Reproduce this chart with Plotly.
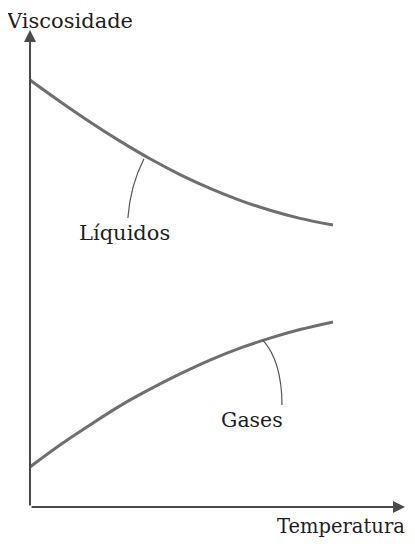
import plotly.graph_objects as go

# Data (arbitrary units): temperature vs viscosity
temperatura = [0, 0.8, 1.6, 2.4, 3.2, 4.0, 4.8, 5.6, 6.4, 7.2, 8.08]
visc_liquidos = [8.95, 8.50, 8.07, 7.67, 7.30, 6.97, 6.68, 6.43, 6.22, 6.05, 5.91]
visc_gases = [0.84, 1.30, 1.72, 2.12, 2.47, 2.79, 3.08, 3.33, 3.54, 3.72, 3.88]

curve_color = "#6f6f6f"
axis_color = "#4a4a4a"
text_color = "#1e1e1e"
FONT = "DejaVu Serif"

fig = go.Figure()
fig.add_trace(go.Scatter(x=temperatura, y=visc_liquidos, mode="lines",
                         line=dict(color=curve_color, width=3, shape="spline"),
                         hoverinfo="skip", showlegend=False))
fig.add_trace(go.Scatter(x=temperatura, y=visc_gases, mode="lines",
                         line=dict(color=curve_color, width=3, shape="spline"),
                         hoverinfo="skip", showlegend=False))

annotations = [
    # axes with arrow heads
    dict(x=10, y=0, ax=0, ay=0, xref="x", yref="y", axref="x", ayref="y",
         showarrow=True, arrowhead=2, arrowsize=1.2, arrowwidth=2,
         arrowcolor=axis_color, text="", standoff=0, startstandoff=0),
    dict(x=0, y=10, ax=0, ay=0, xref="x", yref="y", axref="x", ayref="y",
         showarrow=True, arrowhead=2, arrowsize=1.2, arrowwidth=2,
         arrowcolor=axis_color, text="", standoff=0, startstandoff=0),
    dict(x=-25 / 375, y=1 + 22 / 477, xref="paper", yref="paper", text="Viscosidade",
         showarrow=False, xanchor="left", yanchor="top", borderpad=0,
         font=dict(family=FONT, size=21, color=text_color)),
    dict(x=1 + 1 / 375, y=-19 / 477, xref="paper", yref="paper", text="Temperatura",
         showarrow=False, xanchor="right", yanchor="middle", borderpad=0,
         font=dict(family=FONT, size=19.5, color=text_color)),
    dict(x=2.53, y=5.74, xref="x", yref="y", text="Líquidos", showarrow=False,
         xanchor="center", yanchor="middle", font=dict(family=FONT, size=21, color=text_color)),
    dict(x=5.92, y=1.82, xref="x", yref="y", text="Gases", showarrow=False,
         xanchor="center", yanchor="middle", font=dict(family=FONT, size=20.5, color=text_color)),
]

shapes = [
    dict(type="path", xref="x", yref="y", path="M 3.04,7.30 Q 2.675,6.74 2.61,6.06",
         line=dict(color="#555555", width=1.2)),
    dict(type="path", xref="x", yref="y", path="M 6.21,3.50 Q 6.715,3.06 6.72,2.14",
         line=dict(color="#555555", width=1.2)),
]

fig.update_layout(
    width=407, height=536,
    margin=dict(l=22, r=10, t=22, b=37),
    paper_bgcolor="white", plot_bgcolor="white",
    xaxis=dict(range=[0, 10], visible=False, fixedrange=True),
    yaxis=dict(range=[0, 10], visible=False, fixedrange=True),
    annotations=annotations, shapes=shapes,
    showlegend=False,
)

fig.write_html("out.html")
